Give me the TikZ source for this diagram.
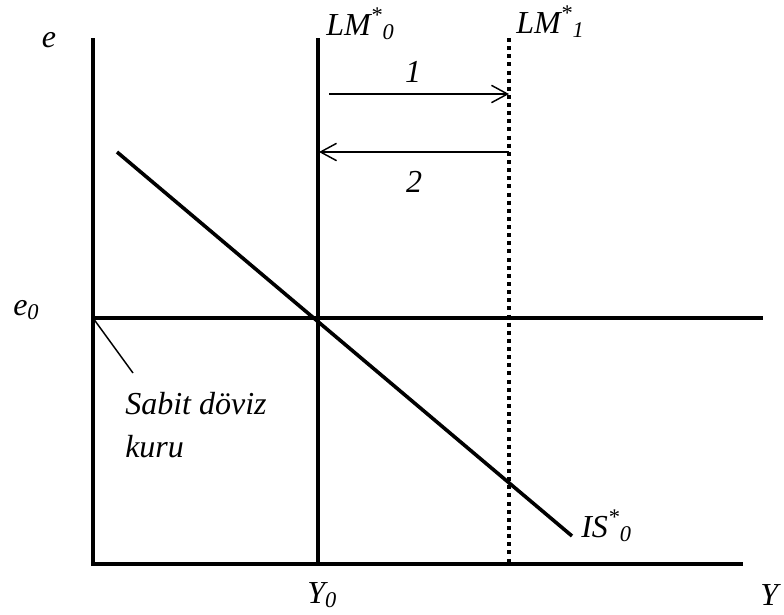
\documentclass[tikz,border=0pt]{standalone}
\usepackage{fontspec}
\newfontfamily\labelfont{Liberation Serif Italic}
\usepackage{tikz}
\usetikzlibrary{arrows.meta,positioning}
\tikzset{
    curve line/.style={line width=2.7pt},
    dotted curve/.style={line width=3pt,dash pattern=on 3pt off 3.1pt},
    thin line/.style={line width=1.1pt},
    shift arrow/.style={thin line,-{Straight Barb[length=12pt,width=13pt]}},
    axis text/.style={
        inner sep=0pt,
        font=\fontsize{24}{32}\labelfont
    }
}

\begin{document}
\begin{tikzpicture}[x=0.75pt,y=-0.75pt]
\useasboundingbox (0,0) rectangle (784,614);
% axes
\coordinate (e_top) at (93,38);
\coordinate (origin) at (93,564);
\coordinate (y_end) at (743,564);
\draw[curve line] (e_top) -- (origin) -- (y_end);
% fixed exchange rate
\coordinate (rate_left) at (93,318);
\coordinate (rate_right) at (763,318);
\draw[curve line] (rate_left) -- (rate_right);
% LM curves
\coordinate (lm0_top) at (318,38);
\coordinate (lm0_bot) at (318,564);
\coordinate (lm1_top) at (509,38);
\coordinate (lm1_bot) at (509,564);
\draw[curve line] (lm0_top) -- (lm0_bot);
\draw[dotted curve] (lm1_top) -- (lm1_bot);
% IS curve
\coordinate (is_start) at (117,152);
\coordinate (is_end) at (572,536);
\draw[curve line] (is_start) -- (is_end);
% shifts
\coordinate (shift1_from) at (329,94);
\coordinate (shift1_to) at (509,94);
\coordinate (shift2_from) at (509,152);
\coordinate (shift2_to) at (319,152);
\draw[shift arrow] (shift1_from) -- (shift1_to);
\draw[shift arrow] (shift2_from) -- (shift2_to);
\node[axis text,anchor=base] (shift1_lbl) at (413,82) {1};
\node[axis text,anchor=base] (shift2_lbl) at (414,192) {2};
% labels
\node[axis text,anchor=base] (e_lbl) at (49,47) {e};
\node[axis text,anchor=base west] (e0_lbl) at (13,315) {e\textsubscript{0}};
\node[axis text,anchor=base west] (lm0_lbl) at (326,35) {LM\textsuperscript{*}\textsubscript{0}};
\node[axis text,anchor=base west] (lm1_lbl) at (516,33) {LM\textsuperscript{*}\textsubscript{1}};
\node[axis text,anchor=base west] (is_lbl) at (581,537) {IS\textsuperscript{*}\textsubscript{0}};
\node[axis text,anchor=base west] (y0_lbl) at (307,603) {Y\textsubscript{0}};
\node[axis text,anchor=base west] (y_lbl) at (760,605) {Y};
\node[axis text,anchor=north west,align=left] (rate_lbl) at (125,392) {Sabit döviz\\kuru};
\coordinate (rate_tip) at (133,373);
\draw[thin line] (rate_left) -- (rate_tip);
\end{tikzpicture}
\end{document}
